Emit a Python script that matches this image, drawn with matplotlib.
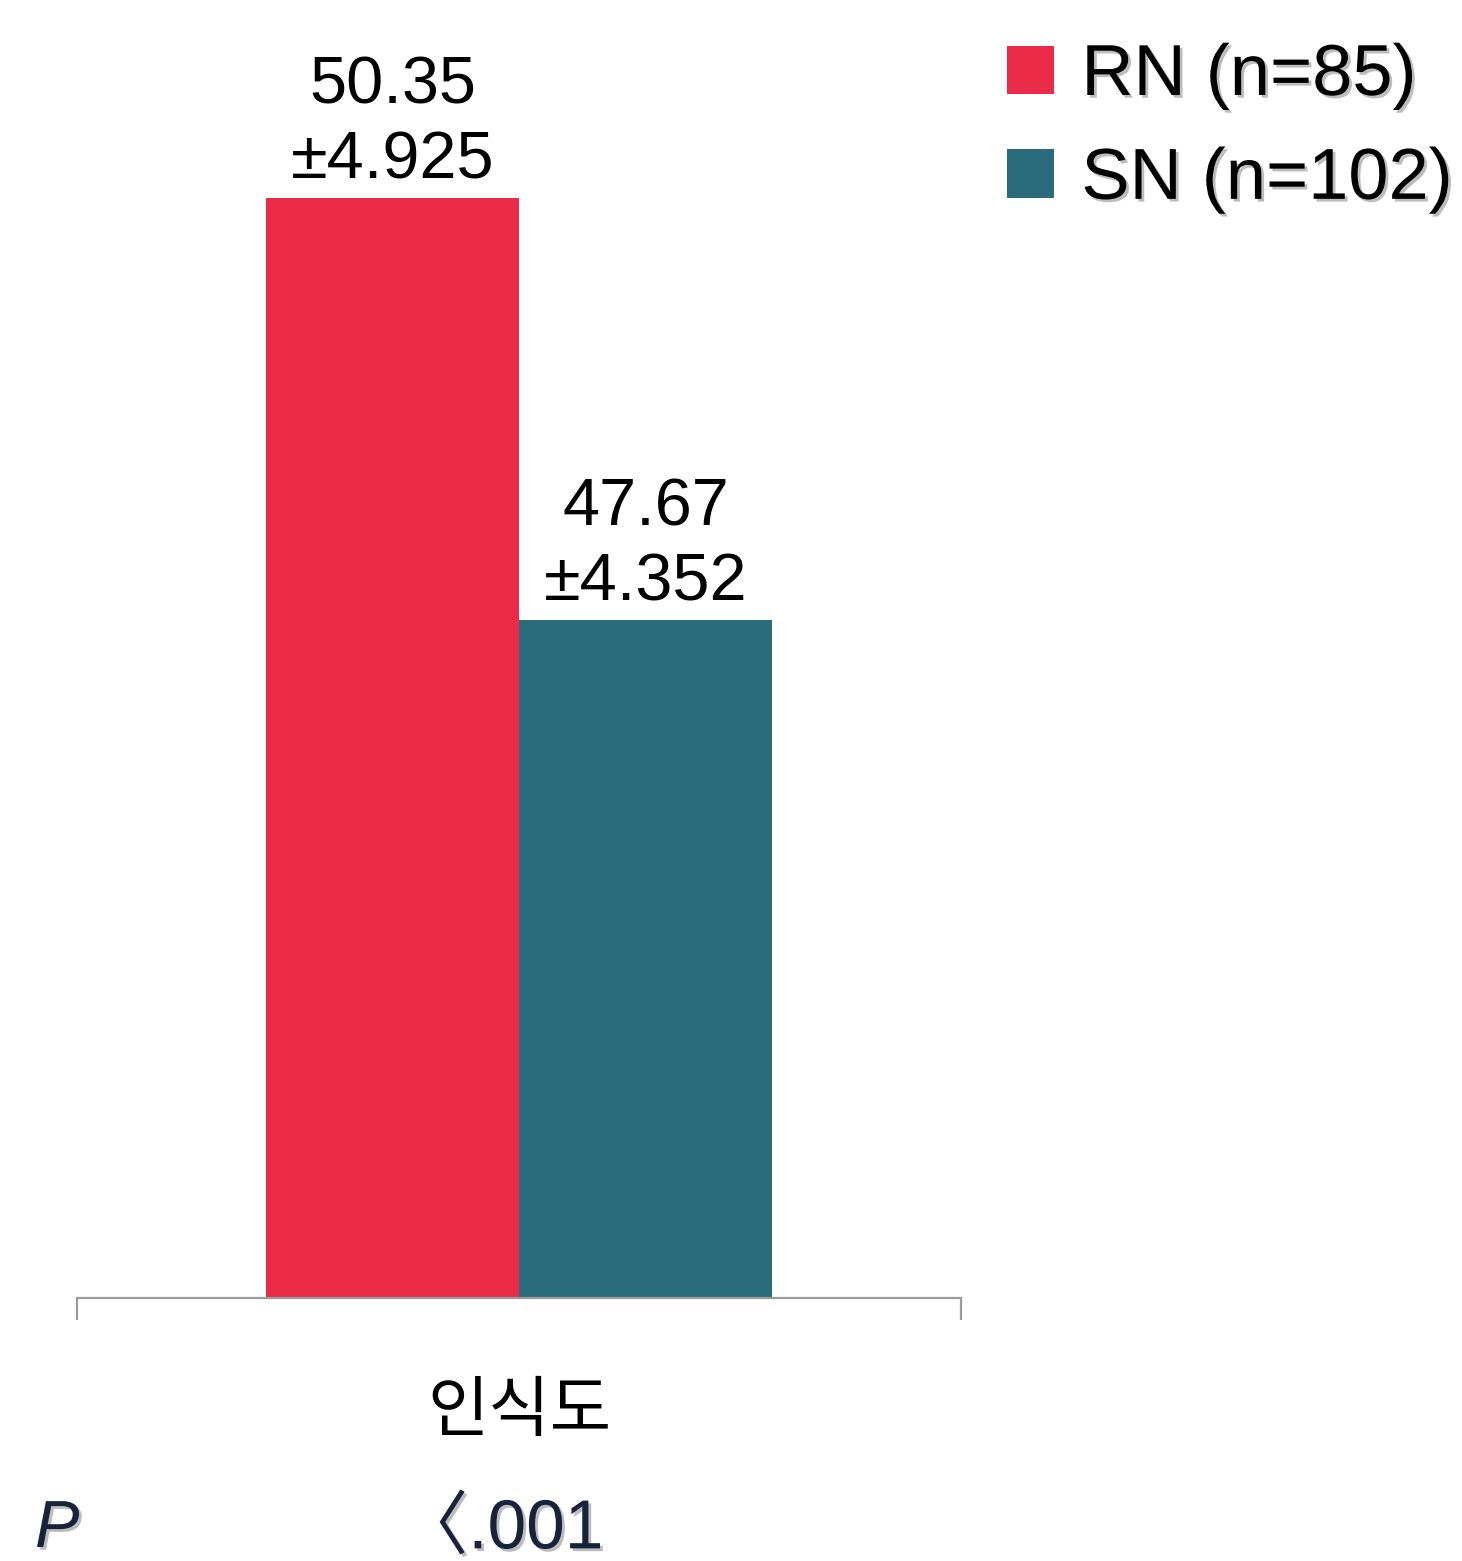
import matplotlib
matplotlib.use("Agg")
import matplotlib.pyplot as plt
import matplotlib.patheffects as pe
from matplotlib.patches import Patch

plt.rcParams['font.family'] = ['Liberation Sans', 'Noto Sans CJK KR', 'DejaVu Sans']

# data
category = '인식도'
groups = ['RN (n=85)', 'SN (n=102)']
means = [50.35, 47.67]
sds = [4.925, 4.352]
colors = ['#EB2A48', '#2A6B7C']
p_label = '〈.001'

W, H = 1462, 1561
fig = plt.figure(figsize=(W / 100, H / 100), dpi=100)

# axes box in pixel units
left, right, base = 77, 961, 1298
ax = fig.add_axes([left / W, (H - base) / H, (right - left) / W, base / H])

ymin = 43.36
px_per_unit = 157.4
ax.set_ylim(ymin, ymin + base / px_per_unit)
ax.set_xlim(-0.5, 0.5)

bw = 253 / (right - left)
offsets = [-bw / 2, bw / 2]
for i in range(len(groups)):
    ax.bar(offsets[i], means[i] - ymin, width=bw, bottom=ymin,
           color=colors[i], label=groups[i], zorder=2)
    ax.annotate(f'{means[i]:.2f}\n±{sds[i]:.3f}', xy=(offsets[i], means[i]),
                xytext=(0, 4), textcoords='offset points',
                ha='center', va='bottom', fontsize=48, linespacing=1.27)

for s in ['left', 'right', 'top']:
    ax.spines[s].set_visible(False)
ax.spines['bottom'].set_color('#9a9a9a')
ax.spines['bottom'].set_linewidth(1.6)
ax.set_yticks([])

ax.set_xticks([0])
ax.set_xticklabels([category], fontsize=48)
ax.tick_params(axis='x', which='major', length=0, pad=61)
ax.set_xticks([-0.5, 0.5], minor=True)
ax.tick_params(axis='x', which='minor', length=16, width=1.6, color='#9a9a9a',
               direction='out')

shadow = [pe.SimplePatchShadow(offset=(2, -2), shadow_rgbFace='#444444', alpha=0.35),
          pe.Normal()]

# p value row
fig.text(35 / W, 1 - 1530 / H, 'P', fontsize=48, style='italic',
         color='#16233a', ha='left', va='center', path_effects=shadow)
ax.annotate(p_label, xy=(-0.02, 1 - 1530 / H), xycoords=('data', 'figure fraction'),
            fontsize=50, color='#16233a', ha='center', va='center',
            path_effects=shadow)

handles = [Patch(facecolor=c, edgecolor='none') for c in colors]
leg = fig.legend(handles, groups, loc='upper left',
                 bbox_to_anchor=(1007 / W, 1 - 43 / H), frameon=False,
                 fontsize=52, handlelength=0.65, handleheight=0.65,
                 handletextpad=0.38, labelspacing=0.51, borderpad=0,
                 borderaxespad=0)
for t in leg.get_texts():
    t.set_path_effects(shadow)

fig.savefig('out.png', dpi=100)
